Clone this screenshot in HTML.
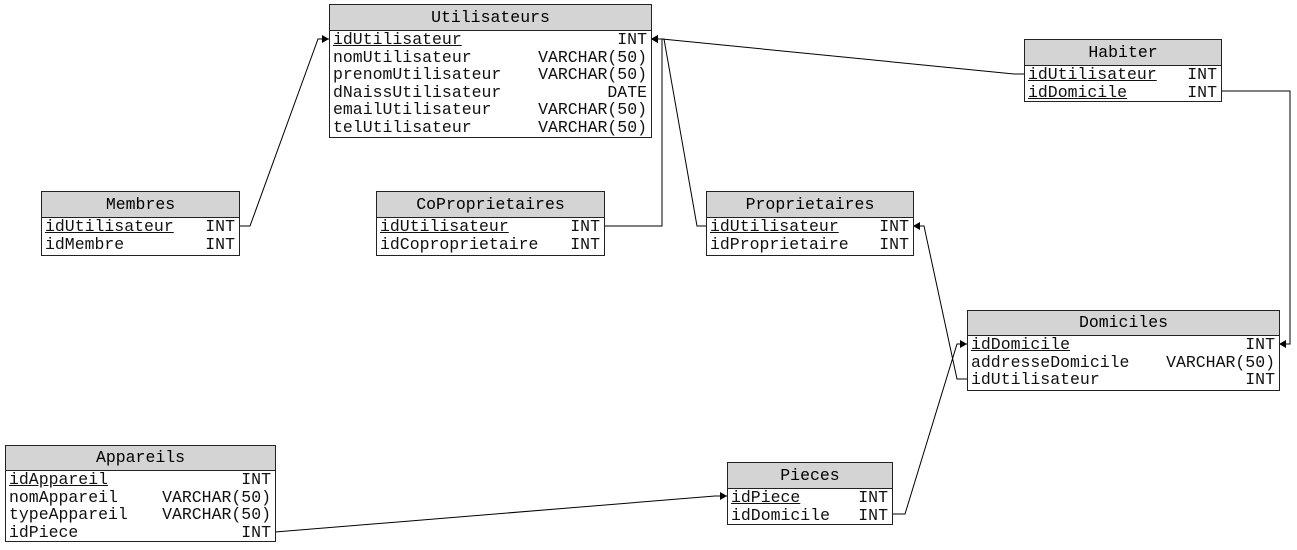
<!DOCTYPE html>
<html><head><meta charset="utf-8"><style>
body{margin:0;width:1297px;height:550px;background:#fff;position:relative;overflow:hidden;font-family:"Liberation Mono",monospace;}
.t{position:absolute;border:1px solid #222;background:#fff;box-sizing:border-box;}
.h{background:#d4d4d4;border-bottom:1px solid #222;text-align:center;font-size:16.5px;box-sizing:border-box;}
.r{display:flex;justify-content:space-between;font-size:16.5px;line-height:17.5px;height:17.5px;padding:0 4px 0 3px;white-space:pre;color:#111;}
.u{text-decoration:underline;}
svg{position:absolute;left:0;top:0;}
</style></head><body>
<svg width="1297" height="550">
<defs><marker id="a" markerWidth="8" markerHeight="8" refX="7" refY="4" orient="auto" markerUnits="userSpaceOnUse"><path d="M0,0 L7,4 L0,8 z" fill="#000"/></marker></defs>
<g fill="none" stroke="#000" stroke-width="1">
<polyline points="239,226 250,226 318,39 329,39" marker-end="url(#a)"/>
<polyline points="604,226 662,226 662,39 651,39" marker-end="url(#a)"/>
<polyline points="706,226 697,226 664,39 651,39" marker-end="url(#a)"/>
<polyline points="1024,74 1014,74 662,39 651,39" marker-end="url(#a)"/>
<polyline points="1221,91 1290,91 1290,344 1279,344" marker-end="url(#a)"/>
<polyline points="967,379 957,379 924,226 913,226" marker-end="url(#a)"/>
<polyline points="892,514 905,514 957,344 967,344" marker-end="url(#a)"/>
<polyline points="275,532 715,496 727,496" marker-end="url(#a)"/>
</g></svg>

<div class="t" style="left:329px;top:4px;width:323px;height:134px;"><div class="h" style="height:26px;line-height:25px;">Utilisateurs</div>
<div class="r"><span class="u">idUtilisateur</span><span>INT</span></div>
<div class="r"><span>nomUtilisateur</span><span>VARCHAR(50)</span></div>
<div class="r"><span>prenomUtilisateur</span><span>VARCHAR(50)</span></div>
<div class="r"><span>dNaissUtilisateur</span><span>DATE</span></div>
<div class="r"><span>emailUtilisateur</span><span>VARCHAR(50)</span></div>
<div class="r"><span>telUtilisateur</span><span>VARCHAR(50)</span></div></div>

<div class="t" style="left:1024px;top:39px;width:198px;height:63px;"><div class="h" style="height:26px;line-height:25px;">Habiter</div>
<div class="r"><span class="u">idUtilisateur</span><span>INT</span></div>
<div class="r"><span class="u">idDomicile</span><span>INT</span></div></div>

<div class="t" style="left:41px;top:191px;width:199px;height:65px;"><div class="h" style="height:26px;line-height:25px;">Membres</div>
<div class="r"><span class="u">idUtilisateur</span><span>INT</span></div>
<div class="r"><span>idMembre</span><span>INT</span></div></div>

<div class="t" style="left:376px;top:191px;width:229px;height:65px;"><div class="h" style="height:26px;line-height:25px;">CoProprietaires</div>
<div class="r"><span class="u">idUtilisateur</span><span>INT</span></div>
<div class="r"><span>idCoproprietaire</span><span>INT</span></div></div>

<div class="t" style="left:706px;top:191px;width:208px;height:65px;"><div class="h" style="height:26px;line-height:25px;">Proprietaires</div>
<div class="r"><span class="u">idUtilisateur</span><span>INT</span></div>
<div class="r"><span>idProprietaire</span><span>INT</span></div></div>

<div class="t" style="left:967px;top:310px;width:313px;height:81px;"><div class="h" style="height:25px;line-height:24px;">Domiciles</div>
<div class="r"><span class="u">idDomicile</span><span>INT</span></div>
<div class="r"><span>addresseDomicile</span><span>VARCHAR(50)</span></div>
<div class="r"><span>idUtilisateur</span><span>INT</span></div></div>

<div class="t" style="left:5px;top:445px;width:271px;height:97px;"><div class="h" style="height:25px;line-height:24px;">Appareils</div>
<div class="r"><span class="u">idAppareil</span><span>INT</span></div>
<div class="r"><span>nomAppareil</span><span>VARCHAR(50)</span></div>
<div class="r"><span>typeAppareil</span><span>VARCHAR(50)</span></div>
<div class="r"><span>idPiece</span><span>INT</span></div></div>

<div class="t" style="left:727px;top:462px;width:166px;height:63px;"><div class="h" style="height:26px;line-height:25px;">Pieces</div>
<div class="r"><span class="u">idPiece</span><span>INT</span></div>
<div class="r"><span>idDomicile</span><span>INT</span></div></div>
</body></html>
